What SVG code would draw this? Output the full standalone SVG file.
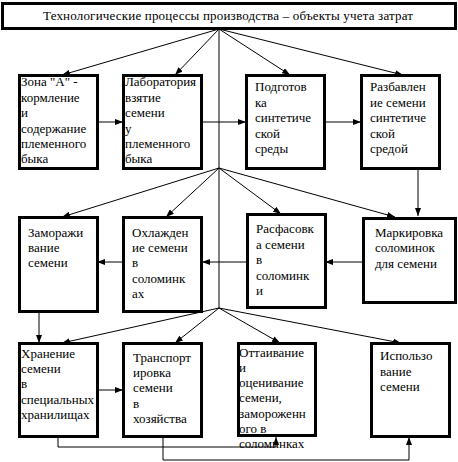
<svg xmlns="http://www.w3.org/2000/svg" width="458" height="462" viewBox="0 0 458 462">
<defs>
<style>
.box{fill:#fff;stroke:#000;stroke-width:3}
.t{font-family:'Liberation Serif','DejaVu Serif',serif;font-size:13px;fill:#000}
.c{fill:none;stroke:#000;stroke-width:1}
</style>
<marker id="a" markerUnits="userSpaceOnUse" markerWidth="8" markerHeight="6" refX="8" refY="3" orient="auto">
<path d="M0,0 L8,3 L0,6 z" fill="#000"/>
</marker>
</defs>
<rect width="458" height="462" fill="#fff"/>
<g id="connectors">
<line class="c" x1="219" y1="29" x2="219" y2="308"/>
<line class="c" x1="219" y1="29" x2="62" y2="75" marker-end="url(#a)"/>
<line class="c" x1="219" y1="29" x2="175" y2="75" marker-end="url(#a)"/>
<line class="c" x1="219" y1="29" x2="290" y2="75" marker-end="url(#a)"/>
<line class="c" x1="219" y1="29" x2="403" y2="75" marker-end="url(#a)"/>
<line class="c" x1="97" y1="122" x2="123" y2="122" marker-end="url(#a)"/>
<line class="c" x1="202" y1="122" x2="246" y2="122" marker-end="url(#a)"/>
<line class="c" x1="325" y1="122" x2="361" y2="122" marker-end="url(#a)"/>
<line class="c" x1="418" y1="168" x2="418" y2="216" marker-end="url(#a)"/>
<line class="c" x1="219" y1="168" x2="62" y2="217" marker-end="url(#a)"/>
<line class="c" x1="219" y1="168" x2="166" y2="217" marker-end="url(#a)"/>
<line class="c" x1="219" y1="168" x2="281" y2="214" marker-end="url(#a)"/>
<line class="c" x1="219" y1="168" x2="395" y2="217" marker-end="url(#a)"/>
<line class="c" x1="363" y1="262" x2="325" y2="262" marker-end="url(#a)"/>
<line class="c" x1="247" y1="262" x2="202" y2="262" marker-end="url(#a)"/>
<line class="c" x1="123" y1="262" x2="97" y2="262" marker-end="url(#a)"/>
<line class="c" x1="39" y1="312" x2="39" y2="343" marker-end="url(#a)"/>
<line class="c" x1="219" y1="308" x2="62" y2="343" marker-end="url(#a)"/>
<line class="c" x1="219" y1="308" x2="175" y2="343" marker-end="url(#a)"/>
<line class="c" x1="219" y1="308" x2="280" y2="343" marker-end="url(#a)"/>
<line class="c" x1="219" y1="308" x2="401" y2="343" marker-end="url(#a)"/>
<line class="c" x1="97" y1="390" x2="123" y2="390" marker-end="url(#a)"/>
<polyline class="c" points="58,437 58,447 276,447 276,437" marker-end="url(#a)"/>
<polyline class="c" points="163,437 163,460 409,460 409,437" marker-end="url(#a)"/>
</g>
<g id="title">
<rect class="box" x="2.5" y="3.5" width="453" height="25"/>
<text class="t" x="228" y="20" text-anchor="middle" textLength="370" lengthAdjust="spacing">Технологические процессы производства – объекты учета затрат</text>
</g>
<g id="zona">
<rect class="box" x="19.5" y="75.5" width="78" height="93"/>
<text class="t" x="21"><tspan x="21" y="86">Зона "А" -</tspan><tspan x="21" y="102">кормление</tspan><tspan x="21" y="117">и</tspan><tspan x="21" y="133">содержание</tspan><tspan x="21" y="148">племенного</tspan><tspan x="21" y="163">быка</tspan></text>
</g>
<g id="lab">
<rect class="box" x="123.5" y="75.5" width="78" height="93"/>
<text class="t"><tspan x="125" y="86">Лаборатория</tspan><tspan x="125" y="102">взятие</tspan><tspan x="125" y="117">семени</tspan><tspan x="125" y="133">у</tspan><tspan x="125" y="148">племенного</tspan><tspan x="125" y="163">быка</tspan></text>
</g>
<g id="podgotovka">
<rect class="box" x="246.5" y="75.5" width="78" height="93"/>
<text class="t"><tspan x="255" y="91">Подготов</tspan><tspan x="255" y="107">ка</tspan><tspan x="255" y="122">синтетиче</tspan><tspan x="255" y="138">ской</tspan><tspan x="255" y="153">среды</tspan></text>
</g>
<g id="razbavlenie">
<rect class="box" x="361.5" y="75.5" width="78" height="93"/>
<text class="t"><tspan x="370" y="91">Разбавлен</tspan><tspan x="370" y="107">ие семени</tspan><tspan x="370" y="122">синтетиче</tspan><tspan x="370" y="138">ской</tspan><tspan x="370" y="153">средой</tspan></text>
</g>
<g id="zamorazhivanie">
<rect class="box" x="19.5" y="217.5" width="78" height="94"/>
<text class="t"><tspan x="28" y="237">Заморажи</tspan><tspan x="28" y="252">вание</tspan><tspan x="28" y="267">семени</tspan></text>
</g>
<g id="okhlazhdenie">
<rect class="box" x="123.5" y="217.5" width="78" height="94"/>
<text class="t"><tspan x="132" y="237">Охлажден</tspan><tspan x="132" y="252">ие семени</tspan><tspan x="132" y="267">в</tspan><tspan x="132" y="283">соломинк</tspan><tspan x="132" y="298">ах</tspan></text>
</g>
<g id="rasfasovka">
<rect class="box" x="247.5" y="214.5" width="78" height="93"/>
<text class="t"><tspan x="256" y="233">Расфасовк</tspan><tspan x="256" y="249">а семени</tspan><tspan x="256" y="264">в</tspan><tspan x="256" y="280">соломинк</tspan><tspan x="256" y="295">и</tspan></text>
</g>
<g id="markirovka">
<rect class="box" x="363.5" y="218.5" width="92" height="84"/>
<text class="t"><tspan x="375" y="237">Маркировка</tspan><tspan x="375" y="252">соломинок</tspan><tspan x="375" y="268">для семени</tspan></text>
</g>
<g id="khranenie">
<rect class="box" x="19.5" y="343.5" width="78" height="93"/>
<text class="t"><tspan x="21" y="358">Хранение</tspan><tspan x="21" y="373">семени</tspan><tspan x="21" y="388">в</tspan><tspan x="21" y="404">специальных</tspan><tspan x="21" y="419">хранилищах</tspan></text>
</g>
<g id="transport">
<rect class="box" x="123.5" y="343.5" width="78" height="93"/>
<text class="t"><tspan x="133" y="362">Транспорт</tspan><tspan x="133" y="377">ировка</tspan><tspan x="133" y="392">семени</tspan><tspan x="133" y="408">в</tspan><tspan x="133" y="423">хозяйства</tspan></text>
</g>
<g id="ottaivanie">
<rect class="box" x="238.5" y="343.5" width="77" height="92"/>
<text class="t"><tspan x="239" y="357">Оттаивание</tspan><tspan x="239" y="372">и</tspan><tspan x="239" y="387">оценивание</tspan><tspan x="239" y="402">семени,</tspan><tspan x="239" y="418">замороженн</tspan><tspan x="239" y="433">ого в</tspan><tspan x="239" y="448">соломинках</tspan></text>
</g>
<g id="ispolzovanie">
<rect class="box" x="371.5" y="343.5" width="78" height="93"/>
<text class="t"><tspan x="380" y="360">Использо</tspan><tspan x="380" y="376">вание</tspan><tspan x="380" y="391">семени</tspan></text>
</g>
</svg>
